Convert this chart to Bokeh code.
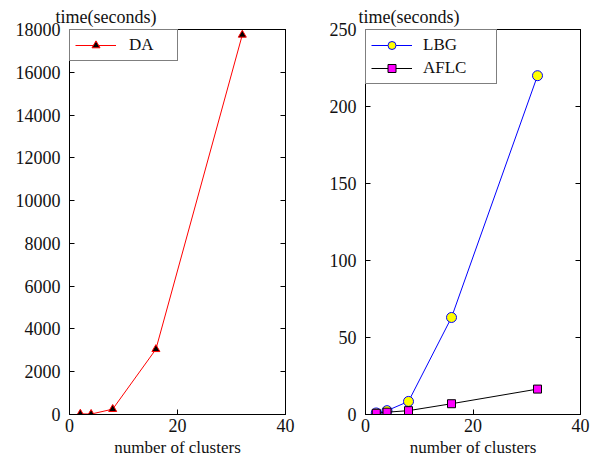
from bokeh.plotting import figure
from bokeh.layouts import row
from bokeh.models import LinearAxis, Legend, LegendItem, FixedTicker, Range1d
from bokeh.embed import file_html
from bokeh.resources import INLINE

clusters = [2, 4, 8, 16, 32]
da_time = [30, 20, 250, 3050, 17750]
lbg_time = [1, 2.5, 8.5, 63, 220]
aflc_time = [0.8, 1.5, 2.5, 7, 16.5]

x_ticks = [0, 20, 40]
left_y_ticks = [0, 2000, 4000, 6000, 8000, 10000, 12000, 14000, 16000, 18000]
right_y_ticks = [0, 50, 100, 150, 200, 250]

FONT = "Liberation Serif"


def make_fig(ymax, yticks, width, border_left, border_right, title_offset):
    p = figure(width=width, height=465, output_backend="svg", toolbar_location=None,
               x_range=Range1d(0, 40), y_range=Range1d(0, ymax),
               min_border_left=border_left, min_border_right=border_right,
               min_border_top=29, min_border_bottom=51,
               title="time(seconds)")
    p.title.text_font = FONT
    p.title.text_font_size = "18px"
    p.title.text_font_style = "normal"
    p.title.text_color = "#111111"
    p.title.align = "left"
    p.title.offset = title_offset
    p.title.standoff = 6
    p.grid.visible = False
    p.outline_line_color = "black"
    p.outline_line_width = 1
    p.background_fill_color = "white"
    p.border_fill_color = "white"
    for ax in [p.xaxis[0], p.yaxis[0]]:
        ax.major_tick_in = 5
        ax.major_tick_out = 0
        ax.minor_tick_in = 0
        ax.minor_tick_out = 0
        ax.axis_line_color = "black"
        ax.major_tick_line_color = "black"
        ax.major_label_text_font = FONT
        ax.major_label_text_font_size = "18px"
        ax.major_label_text_color = "#111111"
        ax.axis_label_text_font = FONT
        ax.axis_label_text_font_size = "17px"
        ax.axis_label_text_font_style = "normal"
        ax.axis_label_text_color = "#111111"
    p.xaxis[0].ticker = FixedTicker(ticks=x_ticks)
    p.yaxis[0].ticker = FixedTicker(ticks=yticks)
    p.xaxis[0].axis_label = "number of clusters"
    p.xaxis[0].axis_label_standoff = 3
    p.xaxis[0].major_label_standoff = 4
    p.yaxis[0].major_label_standoff = 9
    # mirror axes (tick marks only)
    top = LinearAxis(ticker=FixedTicker(ticks=x_ticks),
                     major_label_overrides={t: "" for t in x_ticks},
                     major_tick_in=5, major_tick_out=0, minor_tick_in=0, minor_tick_out=0,
                     major_label_standoff=0)
    right = LinearAxis(ticker=FixedTicker(ticks=yticks),
                       major_label_overrides={t: "" for t in yticks},
                       major_tick_in=5, major_tick_out=0, minor_tick_in=0, minor_tick_out=0,
                       major_label_standoff=0)
    p.add_layout(top, "above")
    p.add_layout(right, "right")
    return p


def style_legend(leg, label_width, standoff):
    leg.location = "top_left"
    leg.margin = 0
    leg.padding = 5
    leg.spacing = 3
    leg.border_line_color = "black"
    leg.border_line_width = 1
    leg.background_fill_alpha = 1
    leg.label_text_font = FONT
    leg.label_text_font_size = "17px"
    leg.label_text_color = "#111111"
    leg.label_height = 20
    leg.glyph_height = 20
    leg.glyph_width = 41
    leg.label_standoff = standoff
    leg.label_width = label_width


p1 = make_fig(18000, left_y_ticks, 297, 69, 12, -14)
r_da_l = p1.line(clusters, da_time, line_color="red", line_width=1)
r_da_m = p1.scatter(clusters, da_time, marker="triangle", size=8,
                    fill_color="black", line_color="red", line_width=1)
leg1 = Legend(items=[LegendItem(label="DA", renderers=[r_da_l, r_da_m])])
style_legend(leg1, 43, 13)
p1.add_layout(leg1)

p2 = make_fig(250, right_y_ticks, 296, 68, 13, -7)
r_lbg_l = p2.line(clusters, lbg_time, line_color="blue", line_width=1)
r_lbg_m = p2.scatter(clusters, lbg_time, marker="circle", size=10,
                     fill_color="yellow", line_color="blue", line_width=1)
r_af_l = p2.line(clusters, aflc_time, line_color="black", line_width=1)
r_af_m = p2.scatter(clusters, aflc_time, marker="square", size=8,
                    fill_color="magenta", line_color="black", line_width=1)
leg2 = Legend(items=[LegendItem(label="LBG", renderers=[r_lbg_l, r_lbg_m]),
                     LegendItem(label="AFLC", renderers=[r_af_l, r_af_m])])
style_legend(leg2, 68, 11)
p2.add_layout(leg2)

layout = row(p1, p2)
open("out.html", "w").write(file_html(layout, INLINE))
